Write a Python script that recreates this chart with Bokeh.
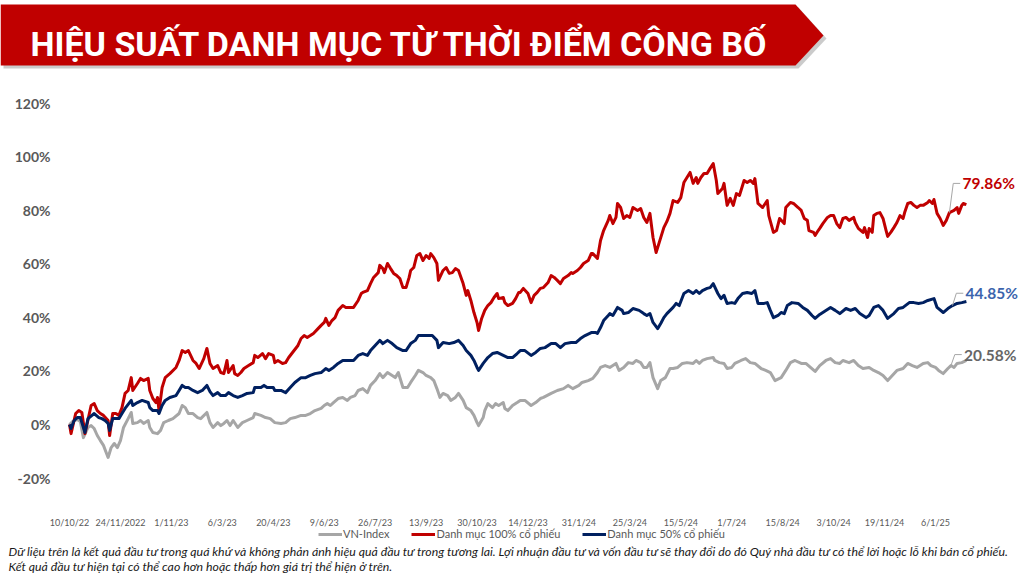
from bokeh.plotting import figure
from bokeh.models import Range1d, FixedTicker, Legend, LegendItem, Label, PolyAnnotation
from bokeh.embed import file_html
from bokeh.resources import INLINE
from bokeh.core.properties import value

TITLE = "HIỆU SUẤT DANH MỤC TỪ THỜI ĐIỂM CÔNG BỐ"
FOOTNOTES = [
    "Dữ liệu trên là kết quả đầu tư trong quá khứ và không phản ánh hiệu quả đầu tư trong tương lai. Lợi nhuận đầu tư và vốn đầu tư sẽ thay đổi do đó Quý nhà đầu tư có thể lời hoặc lỗ khi bán cổ phiếu.",
    "Kết quả đầu tư hiện tại có thể cao hơn hoặc thấp hơn giá trị thể hiện ở trên.",
]
SERIES_NAMES = ["VN-Index", "Danh mục 100% cổ phiếu", "Danh mục 50% cổ phiếu"]
END_LABELS = ["20.58%", "79.86%", "44.85%"]

# x tick labels (one every 33 trading days, trading-day index 0 = 10/10/22)
X_TICK_DAYS = [0, 33, 66, 99, 132, 165, 198, 231, 264, 297, 330, 363, 396, 429, 462, 495, 528, 561]
X_TICK_LABELS = ["10/10/22", "24/11/2022", "1/11/23", "6/3/23", "20/4/23", "9/6/23", "26/7/23",
                 "13/9/23", "30/10/23", "14/12/23", "31/1/24", "25/3/24", "15/5/24", "1/7/24",
                 "15/8/24", "3/10/24", "19/11/24", "6/1/25"]
Y_TICKS = [-20, 0, 20, 40, 60, 80, 100, 120]

# (trading day, cumulative return %)
VN_INDEX = [(0,0.0),(2,1.1),(5,1.9),(7,1.1),(9,-4.9),(12,-1.1),(14,-0.4),(16,-1.5),(18,-4.1),(20,-6.0),
    (22,-7.8),(24,-10.8),(25,-12.3),(27,-8.6),(29,-7.1),(31,-8.6),(33,-6.0),(35,-1.1),(38,2.2),(40,4.5),
    (41,0.4),(44,0.7),(46,1.5),(48,0.4),(51,1.5),(52,-1.1),(54,-3.0),(57,-3.4),(59,-2.2),(61,0.7),
    (64,1.5),(67,2.2),(71,4.1),(73,7.1),(75,6.3),(77,4.1),(80,4.1),(83,2.6),(85,2.2),(89,4.5),
    (91,0.7),(93,-1.1),(96,0.7),(98,-0.4),(100,0.4),(102,1.5),(104,-0.4),(106,1.5),(109,-1.1),(112,0.7),
    (115,1.5),(119,2.6),(120,4.1),(124,3.4),(127,2.6),(130,2.2),(133,0.7),(137,0.4),(140,0.7),(143,2.2),
    (146,2.6),(150,3.4),(153,3.4),(156,4.1),(159,5.2),(163,6.0),(165,7.1),(167,7.8),(169,7.1),(171,8.2),
    (174,9.7),(177,10.1),(180,9.0),(182,10.1),(185,10.8),(187,12.7),(190,13.4),(193,11.9),(195,14.6),(198,16.4),
    (201,19.0),(203,17.5),(206,19.4),(209,18.3),(211,17.5),(213,19.4),(216,13.8),(219,13.8),(221,15.7),(224,18.3),
    (226,20.2),(229,19.4),(231,18.3),(234,17.5),(236,16.4),(238,13.4),(240,10.1),(242,11.6),(245,10.8),(247,9.0),
    (250,10.1),(252,11.6),(255,9.0),(257,6.3),(260,5.2),(262,3.4),(264,0.7),(265,-0.4),(268,2.6),(269,5.2),
    (271,7.8),(274,6.3),(276,7.8),(278,7.1),(281,8.2),(282,6.0),(284,5.2),(287,7.1),(290,8.2),(292,9.0),
    (295,9.0),(299,7.1),(302,8.2),(305,9.7),(307,10.1),(312,11.6),(316,12.7),(320,13.4),(323,14.6),(326,13.4),
    (330,14.6),(332,15.7),(336,16.4),(339,17.2),(342,19.4),(344,21.3),(347,22.0),(350,21.3),(354,22.8),(356,20.2),
    (359,21.3),(362,23.1),(365,22.8),(367,23.9),(370,23.1),(372,21.3),(374,21.3),(376,23.1),(378,17.5),(381,13.4),
    (383,16.4),(386,17.5),(389,20.9),(391,20.9),(394,21.3),(397,22.8),(400,23.1),(404,22.8),(406,23.9),(408,22.8),
    (410,23.9),(413,24.6),(417,25.0),(418,23.9),(421,23.1),(424,22.8),(426,20.9),(429,21.3),(431,22.8),(435,23.9),
    (438,24.6),(441,23.1),(444,22.8),(448,20.9),(451,20.2),(454,19.4),(457,16.4),(461,17.5),(464,20.2),(467,23.1),
    (470,23.9),(474,22.8),(477,22.8),(480,21.3),(483,19.8),(486,22.0),(490,23.9),(493,24.6),(496,23.1),(499,22.8),
    (501,23.9),(505,23.1),(508,23.9),(511,22.0),(514,20.9),(518,21.3),(521,20.2),(524,19.4),(527,18.3),(530,16.4),
    (533,18.3),(536,20.2),(540,20.9),(543,22.8),(546,22.0),(549,21.3),(553,22.8),(556,23.1),(558,22.0),(561,21.3),
    (563,20.2),(566,19.0),(569,20.9),(571,22.0),(573,21.3),(575,22.8),(578,23.1),(581,23.9)]

PORTFOLIO_100 = [(0,0.0),(1,-3.4),(4,4.1),(6,5.2),(8,4.5),(10,-3.4),(14,7.1),(16,7.8),(18,5.2),(20,4.1),
    (22,3.4),(25,1.5),(26,-4.1),(28,4.1),(30,4.1),(32,3.4),(34,6.3),(36,11.6),(38,12.7),(40,17.5),
    (41,12.7),(44,15.3),(46,17.2),(48,16.4),(51,17.2),(52,12.7),(54,9.7),(56,8.2),(57,10.1),(58,5.2),
    (60,13.8),(62,17.5),(65,19.0),(69,21.3),(71,23.9),(73,27.6),(75,26.9),(77,27.6),(80,23.9),(82,22.8),
    (84,20.9),(87,24.6),(89,28.4),(91,22.8),(93,20.9),(96,22.0),(98,19.4),(100,19.0),(102,23.9),(103,19.4),
    (106,22.0),(107,19.0),(109,18.3),(111,19.4),(113,20.9),(116,22.0),(119,23.1),(120,25.8),(122,25.0),(125,26.5),
    (127,24.6),(129,26.5),(132,25.8),(133,23.1),(135,23.9),(138,22.8),(140,23.1),(142,25.0),(144,26.5),(148,29.5),
    (150,32.1),(152,33.2),(154,32.5),(156,33.2),(158,34.0),(161,35.8),(163,37.0),(165,38.1),(166,39.6),(168,37.0),
    (170,38.8),(172,39.9),(174,42.6),(177,44.4),(179,43.7),(181,43.7),(184,43.7),(187,46.3),(189,48.9),(190,49.3),
    (193,50.0),(195,52.6),(197,54.9),(200,56.7),(201,59.4),(203,58.2),(204,56.7),(206,60.1),(208,58.2),(210,56.4),
    (212,55.6),(214,54.5),(216,51.1),(218,51.1),(220,54.9),(221,57.5),(223,58.6),(225,63.1),(227,63.8),(229,61.2),
    (231,63.1),(233,62.0),(234,63.8),(236,62.3),(238,60.1),(239,53.8),(242,57.5),(244,58.6),(246,56.4),(248,56.7),
    (250,58.2),(252,57.5),(255,52.6),(257,48.2),(258,50.0),(260,46.3),(262,41.8),(264,38.1),(265,35.1),(267,39.6),
    (269,42.6),(271,44.4),(273,45.5),(275,47.4),(277,48.9),(278,47.0),(281,47.4),(282,45.5),(284,44.4),(287,45.2),
    (289,47.0),(291,49.3),(292,49.3),(294,50.8),(297,48.9),(299,45.5),(301,48.2),(303,49.3),(305,50.8),(307,51.1),
    (310,53.0),(312,55.6),(314,54.9),(316,53.8),(318,52.6),(320,54.5),(323,55.6),(325,56.7),(326,56.4),(329,57.5),
    (331,58.6),(333,60.1),(336,61.2),(338,63.8),(339,63.8),(342,62.0),(344,68.7),(346,72.4),(349,76.2),(350,78.0),
    (352,75.0),(354,77.3),(355,82.5),(357,81.0),(359,76.9),(361,78.0),(363,77.3),(365,81.0),(368,79.9),(370,80.6),
    (372,77.3),(374,75.4),(376,78.8),(378,69.8),(380,64.2),(382,67.9),(385,73.5),(387,75.8),(389,78.8),(391,83.6),
    (394,82.9),(396,84.7),(398,90.3),(400,92.2),(402,94.1),(404,90.0),(406,92.2),(407,90.0),(409,92.2),(411,93.7),
    (413,93.7),(415,95.6),(417,97.4),(419,91.1),(420,86.2),(423,88.1),(424,90.0),(426,81.8),(428,84.4),(430,81.8),
    (432,86.2),(434,85.5),(437,91.1),(439,90.3),(441,91.1),(443,90.0),(444,91.8),(446,82.5),(449,81.0),(452,83.6),
    (453,78.0),(456,71.7),(458,72.4),(460,76.9),(463,75.0),(464,81.0),(467,82.9),(469,82.5),(472,81.0),(474,79.9),
    (476,76.9),(478,76.2),(479,72.4),(482,71.7),(483,70.6),(485,72.4),(486,73.2),(488,75.0),(491,77.3),(493,78.0),
    (495,78.0),(497,75.0),(499,73.5),(501,76.9),(503,77.3),(505,76.2),(508,77.3),(509,75.4),(511,73.2),(514,71.7),
    (515,73.5),(517,69.8),(518,73.2),(520,71.7),(521,78.0),(523,78.8),(525,79.1),(527,76.9),(529,72.4),(530,70.2),
    (532,71.7),(534,73.5),(536,75.4),(538,78.0),(540,76.9),(541,79.1),(543,82.5),(545,82.9),(547,81.8),(549,81.0),
    (551,81.8),(553,81.8),(556,82.9),(557,83.6),(559,82.5),(560,84.0),(562,78.8),(564,76.9),(566,74.3),(568,76.2),
    (570,79.1),(573,79.9),(575,81.0),(576,78.8),(578,81.8),(579,82.5),(581,82.1)]

PORTFOLIO_50 = [(0,0.0),(1,-1.5),(3,1.5),(5,2.6),(7,2.6),(10,-3.0),(12,2.2),(16,4.1),(19,2.6),(21,2.2),
    (23,1.5),(25,0.4),(26,-2.2),(28,2.2),(30,2.2),(32,2.2),(34,4.1),(36,6.0),(40,9.0),(41,7.1),
    (44,8.2),(47,9.0),(51,8.2),(52,6.3),(54,5.2),(57,5.2),(58,4.1),(60,7.1),(62,9.0),(65,10.1),
    (69,10.8),(71,12.7),(73,14.6),(75,13.8),(77,13.8),(80,12.7),(83,11.9),(86,12.7),(89,14.6),(91,12.3),
    (93,10.8),(96,11.9),(98,10.8),(101,10.8),(103,11.9),(106,10.8),(109,10.1),(112,10.8),(115,11.6),(119,11.9),
    (120,13.8),(124,13.8),(126,14.6),(128,13.8),(132,13.8),(133,12.7),(137,12.7),(140,11.9),(143,13.8),(146,15.7),
    (150,17.5),(153,17.5),(156,18.3),(159,19.0),(163,19.4),(166,20.9),(168,20.2),(171,21.3),(174,22.8),(177,23.9),
    (181,23.9),(184,23.9),(187,25.8),(190,26.5),(193,25.8),(195,27.6),(198,29.5),(201,31.4),(203,30.2),(206,31.4),
    (209,30.2),(212,28.7),(216,27.6),(218,27.6),(221,30.2),(224,31.4),(226,33.2),(229,33.2),(233,33.2),(235,33.2),
    (238,31.4),(239,28.7),(242,30.6),(246,30.2),(249,30.6),(252,31.4),(255,29.5),(257,27.6),(260,25.8),(262,23.9),
    (264,21.3),(265,20.2),(268,22.8),(271,25.0),(274,26.5),(277,26.9),(281,25.8),(284,25.0),(287,25.0),(290,26.5),
    (292,27.6),(295,27.6),(299,25.8),(302,26.9),(305,28.4),(308,28.7),(312,30.2),(315,30.2),(318,28.7),(321,30.2),
    (325,30.6),(328,30.6),(331,32.1),(334,33.2),(338,34.3),(341,34.3),(342,34.0),(344,36.2),(346,38.8),(349,40.7),
    (350,41.4),(352,40.7),(355,43.7),(358,42.6),(359,41.4),(362,41.8),(365,43.3),(369,42.6),(372,41.4),(374,40.7),
    (376,41.4),(378,38.1),(381,35.8),(383,37.7),(385,39.9),(387,41.4),(391,43.7),(393,45.2),(395,44.4),(398,48.9),
    (401,50.0),(404,48.9),(406,50.0),(408,48.9),(410,50.0),(413,50.8),(415,51.1),(417,52.6),(420,48.9),(422,47.0),
    (424,48.2),(426,45.2),(429,45.5),(431,45.2),(433,47.0),(436,48.9),(439,49.3),(442,48.9),(444,50.0),(446,45.2),
    (450,45.2),(452,45.5),(454,42.6),(456,39.9),(459,40.7),(461,41.8),(463,41.4),(465,44.4),(468,45.5),(472,45.2),
    (475,43.7),(478,42.6),(481,40.7),(483,39.6),(486,41.1),(490,42.6),(493,43.7),(496,42.6),(499,41.4),(503,43.3),
    (506,42.6),(509,43.3),(512,41.4),(516,39.9),(518,40.7),(521,43.7),(524,44.4),(527,42.6),(530,39.6),(534,41.4),
    (537,43.3),(540,43.7),(544,45.5),(547,45.5),(550,45.2),(553,45.5),(556,46.3),(560,47.0),(562,43.7),(566,41.8),
    (569,43.3),(572,44.4),(575,45.2),(578,45.5),(581,45.9)]

SERIES = [VN_INDEX, PORTFOLIO_100, PORTFOLIO_50]
COLORS = ["#A6A6A6", "#C00000", "#002060"]
LABEL_COLORS = ["#666666", "#C00000", "#3B64AD"]
LABEL_Y = [26.1, 90.0, 49.0]   # label anchor heights (layout positions)
LEADER_DAY = 571

# The frame covers the whole canvas; axes are pinned with fixed_location.
W, H = 1022, 575
p = figure(width=W, height=H, x_range=Range1d(-44.70, 617.35), y_range=Range1d(-56.36, 158.27),
           output_backend="svg", toolbar_location=None,
           min_border=0, min_border_left=0, min_border_right=0, min_border_top=0, min_border_bottom=0)
p.grid.visible = False
p.outline_line_color = None
p.background_fill_color = "white"

# ---------------- banner (screen units, origin bottom-left) ----------------
p.add_layout(PolyAnnotation(xs=[3, 798, 826, 798, 3], ys=[568, 568, 537, 507, 507],
                            xs_units="screen", ys_units="screen",
                            fill_color="#8C8C8C", fill_alpha=0.45, line_color=None))
p.add_layout(PolyAnnotation(xs=[0, 795, 823, 795, 0], ys=[571, 571, 540, 510, 510],
                            xs_units="screen", ys_units="screen",
                            fill_color="#C00000", fill_alpha=1.0, line_color=None))
p.add_layout(Label(x=30, y=532, x_units="screen", y_units="screen", text=TITLE,
                   text_font="Roboto", text_font_style="bold", text_font_size="34px",
                   text_color="white", text_baseline="alphabetic"))

# ---------------- series ----------------
renderers = []
for pts, col in zip(SERIES, COLORS):
    xs = [d for d, v in pts]
    ys = [v for d, v in pts]
    r = p.line(xs, ys, line_color=col, line_width=3, line_join="round")
    renderers.append(r)

# leader lines + end labels
lx, ly, tx, ty = [], [], [], []
for pts, yl in zip(SERIES, LABEL_Y):
    d0, v0 = min(pts, key=lambda t: abs(t[0] - LEADER_DAY))
    lx.append([d0, d0 + 2.5, d0 + 7])
    ly.append([v0, yl, yl])
    tx.append(d0 + 8.5)
    ty.append(yl)
p.multi_line(lx, ly, line_color="#A6A6A6", line_width=1)
p.text(x=tx, y=ty, text=END_LABELS, text_color=LABEL_COLORS, text_font=value("Lato"),
       text_font_style="bold", text_font_size="15.5px", text_baseline="middle", text_align="left")

# ---------------- axes ----------------
p.yaxis.fixed_location = -4.53
p.yaxis.ticker = FixedTicker(ticks=Y_TICKS)
p.yaxis.major_label_overrides = {t: f"{t}%" for t in Y_TICKS}
p.yaxis.major_label_text_font = "Lato"
p.yaxis.major_label_text_font_style = "bold"
p.yaxis.major_label_text_font_size = "14px"
p.yaxis.major_label_text_color = "#595959"
p.yaxis.major_label_standoff = 12
p.yaxis.major_tick_out = 0
p.yaxis.major_tick_in = 0
p.yaxis.axis_line_color = None
p.yaxis.major_tick_line_color = None
p.yaxis.minor_tick_line_color = None

p.xaxis.fixed_location = -24.64
p.xaxis.ticker = FixedTicker(ticks=X_TICK_DAYS)
p.xaxis.major_label_overrides = dict(zip(X_TICK_DAYS, X_TICK_LABELS))
p.xaxis.major_label_text_font = "Lato"
p.xaxis.major_label_text_font_size = "9px"
p.xaxis.major_label_text_color = "#595959"
p.xaxis.major_label_standoff = 26
p.xaxis.major_tick_out = 0
p.xaxis.major_tick_in = 0
p.xaxis.axis_line_color = None
p.xaxis.major_tick_line_color = None
p.xaxis.minor_tick_line_color = None

# ---------------- legend ----------------
legend = Legend(items=[LegendItem(label=n, renderers=[r]) for n, r in zip(SERIES_NAMES, renderers)],
                orientation="horizontal", location=(318, 35), margin=0, padding=2,
                spacing=22, glyph_width=24, glyph_height=12, label_height=12, label_standoff=1,
                label_text_font="Lato", label_text_font_size="11px", label_text_color="#595959",
                border_line_color=None, background_fill_alpha=0)
p.add_layout(legend, "center")

# ---------------- footnote ----------------
for i, line in enumerate(FOOTNOTES):
    p.add_layout(Label(x=8, y=24 - 15 * i, x_units="screen", y_units="screen", text=line,
                       text_font="Lato", text_font_style="italic", text_font_size="12.3px",
                       text_color="#1A1A1A", text_baseline="middle"))

open("out.html", "w").write(file_html(p, INLINE))
